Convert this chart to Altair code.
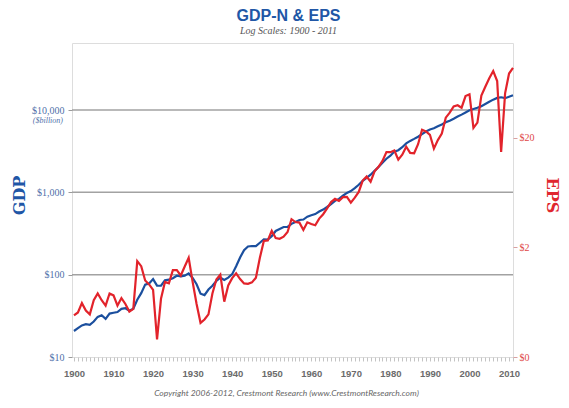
import altair as alt
import pandas as pd

years = list(range(1900, 2012))

gdp = [20.7, 22.4, 24.2, 25.0, 24.6, 27.0, 30.7, 32.2, 29.1, 33.7,
       34.5, 35.2, 38.4, 39.1, 36.5, 38.7, 49.6, 59.7, 75.8, 78.3,
       88.4, 73.6, 73.4, 85.4, 86.9, 90.6, 97.0, 95.5, 97.4, 103.6,
       91.2, 76.5, 58.7, 56.4, 66.0, 73.3, 83.8, 91.9, 86.1, 92.2,
       101.4, 126.7, 161.9, 198.6, 219.8, 223.0, 222.2, 244.1, 269.1, 267.2,
       293.7, 339.3, 358.3, 379.3, 380.4, 414.7, 437.4, 461.1, 467.2, 506.6,
       526.4, 544.7, 585.6, 617.7, 663.6, 719.1, 787.7, 832.4, 909.8, 984.4,
       1038.3, 1126.8, 1237.9, 1382.3, 1499.5, 1637.7, 1824.6, 2030.1, 2293.8, 2562.2,
       2788.1, 3126.8, 3253.2, 3534.6, 3930.9, 4217.5, 4460.1, 4736.4, 5100.4, 5482.1,
       5800.5, 5992.1, 6342.3, 6667.4, 7085.2, 7414.7, 7838.5, 8332.4, 8793.5, 9353.5,
       9951.5, 10286.2, 10642.3, 11142.1, 11853.3, 12623.0, 13377.2, 14028.7, 14291.5, 13939.0,
       14526.5, 15094.0]

eps = [0.48, 0.51, 0.62, 0.53, 0.49, 0.66, 0.76, 0.66, 0.59, 0.76,
       0.73, 0.59, 0.69, 0.61, 0.52, 0.55, 1.50, 1.35, 1.00, 0.92,
       0.82, 0.29, 0.68, 0.97, 0.94, 1.24, 1.24, 1.11, 1.34, 1.61,
       0.97, 0.61, 0.41, 0.44, 0.49, 0.76, 1.02, 1.13, 0.64, 0.90,
       1.05, 1.16, 1.03, 0.94, 0.93, 0.96, 1.06, 1.61, 2.29, 2.32,
       2.84, 2.44, 2.40, 2.51, 2.77, 3.62, 3.41, 3.37, 2.89, 3.39,
       3.27, 3.19, 3.67, 4.02, 4.55, 5.19, 5.55, 5.33, 5.76, 5.78,
       5.13, 5.70, 6.42, 8.16, 8.89, 7.96, 9.91, 10.89, 12.33, 14.86,
       14.82, 15.36, 12.64, 14.03, 16.64, 14.61, 14.48, 17.50, 23.75, 22.87,
       21.34, 15.97, 19.09, 21.89, 30.60, 33.96, 38.73, 39.72, 37.71, 48.17,
       50.00, 24.69, 27.59, 48.74, 58.55, 69.93, 81.51, 66.18, 14.88, 50.97,
       77.35, 86.95]

gdp_ticks = [10, 100, 1000, 10000]
gdp_grid = [100, 1000, 10000]
eps_ticks = [0.2, 2, 20]
unit_label = ["($billion)"]
unit_at = [10000]

title_text = "GDP-N & EPS"
subtitle_text = "Log Scales: 1900 - 2011"
copyright_text = "Copyright 2006-2012, Crestmont Research (www.CrestmontResearch.com)"

BLUE = "#1b4f9e"
RED = "#e2232b"
LBL_BLUE = "#5071aa"
LBL_RED = "#e04848"

df = pd.DataFrame({"year": years, "gdp": gdp, "eps": eps})
grid_df = pd.DataFrame({"gdp": gdp_grid})
unit_df = pd.DataFrame({"gdp": unit_at, "t": unit_label})

x_enc = alt.X(
    "year:Q",
    scale=alt.Scale(domain=[1899.5, 2011], nice=False, zero=False),
    axis=alt.Axis(
        values=years,
        labelExpr="datum.value % 10 == 0 ? '' + datum.value : ''",
        labelOverlap=False,
        labelFlush=False,
        labelFont="Liberation Sans",
        labelFontWeight="bold",
        labelFontSize=9.5,
        labelColor="#6b6b6b",
        labelPadding=7,
        tickSize=4,
        tickColor="#c4c4c4",
        domain=False,
        grid=False,
        title=copyright_text,
        titleFont="Lato",
        titleFontStyle="italic",
        titleFontWeight="normal",
        titleFontSize=8.5,
        titleColor="#666666",
        titleX=214,
        titleY=38,
        titleAlign="center",
        titleBaseline="alphabetic",
    ),
)

left_scale = alt.Scale(type="log", domain=[10, 65200], nice=False)
right_scale = alt.Scale(type="log", domain=[0.2, 147], nice=False)

rules = alt.Chart(grid_df).mark_rule(color="#a2a2a2", strokeWidth=1.5).encode(
    y=alt.Y("gdp:Q", scale=left_scale)
)

gdp_line = alt.Chart(df).mark_line(color=BLUE, strokeWidth=2.2).encode(
    x=x_enc,
    y=alt.Y(
        "gdp:Q",
        scale=left_scale,
        axis=alt.Axis(
            values=gdp_ticks,
            labelExpr="'$' + format(datum.value, ',')",
            labelFont="Liberation Serif",
            labelFontSize=10,
            labelColor=LBL_BLUE,
            labelPadding=4,
            tickSize=4,
            tickColor="#9a9a9a",
            domain=False,
            grid=False,
            title="GDP",
            titleFont="DejaVu Serif",
            titleFontWeight="bold",
            titleFontSize=16,
            titleColor="#1f56a6",
            titleAngle=270,
            titleX=-53,
            titleY=152,
            titleAlign="center",
            titleBaseline="middle",
        ),
    ),
)

unit_text = alt.Chart(unit_df).mark_text(
    align="right", baseline="middle", dy=11, font="Liberation Serif",
    fontStyle="italic", fontSize=8, color=LBL_BLUE
).encode(
    x=alt.value(-9),
    y=alt.Y("gdp:Q", scale=left_scale),
    text="t:N",
)

eps_line = alt.Chart(df).mark_line(color=RED, strokeWidth=2.2).encode(
    x=x_enc,
    y=alt.Y(
        "eps:Q",
        scale=right_scale,
        axis=alt.Axis(
            orient="right",
            values=eps_ticks,
            labelExpr="datum.value < 1 ? '$0' : '$' + datum.value",
            labelFont="Liberation Serif",
            labelFontSize=10,
            labelColor=LBL_RED,
            labelPadding=2,
            tickSize=4,
            tickColor="#d9a0a0",
            domain=False,
            grid=False,
            title="EPS",
            titleFont="DejaVu Serif",
            titleFontWeight="bold",
            titleFontSize=16,
            titleColor="#e0262f",
            titleAngle=90,
            titleX=38,
            titleY=152,
            titleAlign="center",
            titleBaseline="middle",
        ),
    ),
)

left = alt.layer(rules, gdp_line, unit_text)

chart = (
    alt.layer(left, eps_line)
    .resolve_scale(y="independent")
    .properties(
        width=441,
        height=314,
        autosize=alt.AutoSizeParams(type="none"),
        padding={"left": 64, "top": 35, "right": 48, "bottom": 43},
        title=alt.TitleParams(
            text=title_text,
            subtitle=subtitle_text,
            anchor="middle",
            dx=-4,
            offset=7,
            font="Liberation Sans",
            fontSize=16,
            fontWeight="bold",
            color="#2157a6",
            subtitleFont="Liberation Serif",
            subtitleFontStyle="italic",
            subtitleFontSize=10,
            subtitleColor="#555555",
            subtitlePadding=2,
        ),
    )
    .configure_view(fill="#e7e8e8", stroke=None)
    .configure(background="white")
)

chart.save("out.html", embed_options={"renderer": "svg", "actions": False})
